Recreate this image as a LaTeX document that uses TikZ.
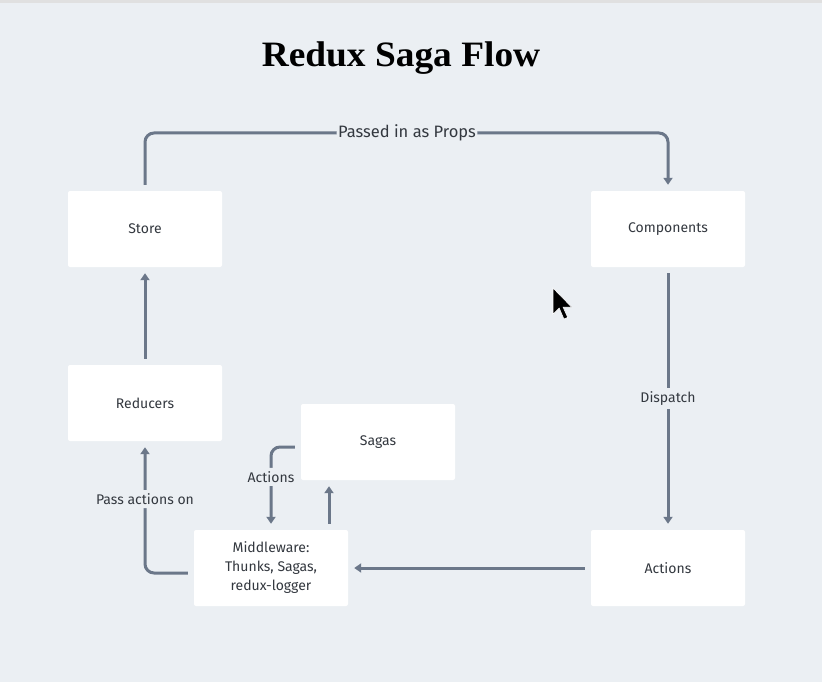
\documentclass[tikz,border=0pt]{standalone}
\usepackage{fontspec}
\setsansfont{Fira Sans}
\newfontfamily\titlefont{Liberation Serif}
\usepackage{tikz}
\usetikzlibrary{arrows.meta,calc}
\usepackage{xcolor}
\definecolor{bgcol}{HTML}{EBEFF3}
\definecolor{linecol}{HTML}{6B7789}
\definecolor{txtcol}{HTML}{33383F}

\begin{document}
\begin{tikzpicture}[x=1pt,y=-1pt,
		box/.style={fill=white,rounded corners=2pt,minimum width=154pt,minimum height=76pt,
			align=center,text=txtcol,font=\sffamily\fontsize{14}{19}\selectfont},
		link/.style={draw=linecol,line width=3pt,rounded corners=9pt,shorten >=6pt,shorten <=6pt,
			-{Triangle[width=9pt,length=7pt]}},
		lbl/.style={fill=bgcol,text=txtcol,inner sep=3.5pt,font=\sffamily\fontsize{14}{16}\selectfont}]
			  % background and title
			  \fill[bgcol] (0,0) rectangle (822,682);
			  \fill[black!12] (0,0) rectangle (822,3);
			  \node[font=\titlefont\bfseries\fontsize{34}{40}\selectfont,xscale=1.1,yscale=1.05,transform shape] (title) at (401,58) {Redux Saga Flow};
			  % boxes
			  \node[box] (store) at (145,229) {Store};
			  \node[box] (components) at (668,229) {Components};
			  \node[box] (reducers) at (145,403) {Reducers};
			  \node[box] (sagas) at (378,442) {Sagas};
			  \node[box] (middleware) at (271,568) {Middleware:\\Thunks, Sagas,\\redux-logger};
			  \node[box] (actions) at (668,568) {Actions};
			  \coordinate (props) at (407,133);
			  % connectors
			  \draw[link] (store.north) |- (props) node[lbl,inner sep=1.5pt,font=\sffamily\fontsize{16.5}{18}\selectfont] {Passed in as Props} -| (components.north);
			  \draw[link] (components) -- node[lbl] {Dispatch} (actions);
			  \draw[link] (actions) -- (middleware);
			  \draw[link] ([yshift=-5pt]middleware.west) -| node[lbl,pos=0.78] {Pass actions on} (reducers.south);
			  \draw[link] (reducers) -- (store);
			  \draw[link] ([yshift=-5pt]sagas.west) -| node[lbl,pos=0.68] {Actions} (middleware.north);
			  \draw[link] ([xshift=58pt]middleware.north) -- ([xshift=58pt]middleware.north |- sagas.south);
			  % mouse pointer
			  \filldraw[fill=black,draw=white,line width=0.6pt,shift={(553,288)},scale=1.55]
			    (0,0) -- (0,17) -- (4,13) -- (7,20) -- (9.5,19) -- (6.5,12.3) -- (12,12.3) -- cycle;
			\end{tikzpicture}
\end{document}
